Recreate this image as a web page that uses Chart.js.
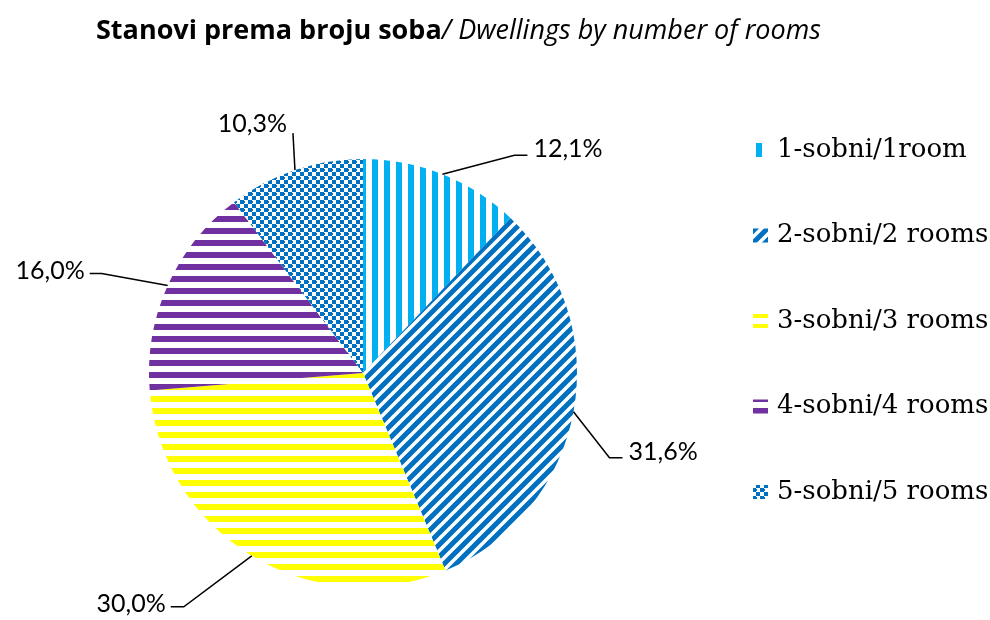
<!DOCTYPE html>
<html>
<head>
<meta charset="utf-8">
<script src="https://cdn.jsdelivr.net/npm/chart.js@4.4.1/dist/chart.umd.min.js"></script>
<style>
  html, body { margin: 0; padding: 0; background: #fff; }
  #wrap { position: relative; width: 990px; height: 620px; }
  #title {
    position: absolute; left: 96px; top: 10px;
    font-family: "Open Sans", Lato, sans-serif; font-size: 27px; color: #000;
    white-space: nowrap;
  }
  #title b { font-weight: 700; }
  #title i { font-style: italic; }
</style>
</head>
<body>
<div id="wrap">
  <canvas id="c" width="990" height="620"></canvas>
  <div id="title"><b>Stanovi prema broju soba</b><i>/ Dwellings by number of rooms</i></div>
</div>
<script>
// data
const categories = ['1-sobni/1room', '2-sobni/2 rooms', '3-sobni/3 rooms', '4-sobni/4 rooms', '5-sobni/5 rooms'];
const shares = [12.1, 31.6, 30.0, 16.0, 10.3];
const valueLabels = ['12,1%', '31,6%', '30,0%', '16,0%', '10,3%'];

// pattern fills (like excel hatching)
function makePattern(kind, color) {
  const t = document.createElement('canvas');
  const s = kind === 'checker' ? 8 : 12;
  t.width = s; t.height = s;
  const g = t.getContext('2d');
  g.fillStyle = '#fff';
  g.fillRect(0, 0, s, s);
  g.fillStyle = color;
  g.strokeStyle = color;
  if (kind === 'vert') {
    g.fillRect(0, 0, 6, s);
  } else if (kind === 'horiz') {
    g.fillRect(0, 0, s, 6);
  } else if (kind === 'diag') {
    g.lineWidth = 5;
    g.beginPath();
    g.moveTo(-2, s + 2); g.lineTo(s + 2, -2);
    g.moveTo(-2, 2); g.lineTo(2, -2);
    g.moveTo(s - 2, s + 2); g.lineTo(s + 2, s - 2);
    g.stroke();
  } else if (kind === 'checker') {
    g.fillRect(0, 0, 4, 4);
    g.fillRect(4, 4, 4, 4);
    g.fillRect(3, 1, 2, 2);
    g.fillRect(7, 5, 2, 2);
  }
  return g.createPattern(t, 'repeat');
}

const fills = [
  makePattern('vert', '#00B0F0'),
  makePattern('diag', '#0070C0'),
  makePattern('horiz', '#FFFF00'),
  makePattern('horiz', '#7030A0'),
  makePattern('checker', '#0070C0')
];

// leader line elbows relative to slice edge midpoint, text side
const leaders = [
  { dx: 72, dy: -19, tick: 13, side: 'right' },
  { dx: 36, dy: 46, tick: 13, side: 'right' },
  { dx: -68, dy: 51, tick: -13, side: 'left' },
  { dx: -66, dy: -12, tick: -12, side: 'left' },
  { dx: -2, dy: -37, tick: 0, side: 'top' }
];

const labelPlugin = {
  id: 'outLabels',
  afterDatasetsDraw(chart) {
    const ctx = chart.ctx;
    const meta = chart.getDatasetMeta(0);
    ctx.save();
    ctx.strokeStyle = '#000';
    ctx.lineWidth = 1.5;
    ctx.fillStyle = '#000';
    ctx.font = '25px Lato, "Open Sans", sans-serif';
    meta.data.forEach((arc, i) => {
      const mid = (arc.startAngle + arc.endAngle) / 2;
      const x0 = arc.x + Math.cos(mid) * arc.outerRadius;
      const y0 = arc.y + Math.sin(mid) * arc.outerRadius;
      const L = leaders[i];
      const x1 = x0 + L.dx, y1 = y0 + L.dy;
      const x2 = x1 + L.tick;
      ctx.beginPath();
      ctx.moveTo(x0, y0);
      ctx.lineTo(x1, y1);
      ctx.lineTo(x2, y1);
      ctx.stroke();
      ctx.textBaseline = 'middle';
      if (L.side === 'right') {
        ctx.textAlign = 'left';
        ctx.fillText(valueLabels[i], x2 + 6, y1 - 6);
      } else if (L.side === 'left') {
        ctx.textAlign = 'right';
        ctx.fillText(valueLabels[i], x2 - 5, y1 - 3);
      } else {
        ctx.textAlign = 'right';
        ctx.fillText(valueLabels[i], x1 - 6, y1 - 9);
      }
    });
    ctx.restore();
  }
};

const legendPlugin = {
  id: 'sideLegend',
  afterDraw(chart) {
    const ctx = chart.ctx;
    ctx.save();
    ctx.font = '26px "DejaVu Serif", serif';
    ctx.textAlign = 'left';
    ctx.textBaseline = 'middle';
    categories.forEach((name, i) => {
      const y = 150 + i * 85.5;
      ctx.fillStyle = fills[i];
      ctx.fillRect(753, y - 7, 15, 14);
      ctx.fillStyle = '#000';
      ctx.fillText(name, 777, y);
    });
    ctx.restore();
  }
};

new Chart(document.getElementById('c'), {
  type: 'pie',
  data: {
    labels: categories,
    datasets: [{
      data: shares,
      backgroundColor: fills,
      borderWidth: 0
    }]
  },
  options: {
    responsive: false,
    animation: false,
    layout: { padding: { left: 149, right: 413, top: 159, bottom: 33 } },
    plugins: {
      legend: { display: false },
      tooltip: { enabled: false }
    }
  },
  plugins: [labelPlugin, legendPlugin]
});
</script>
</body>
</html>
